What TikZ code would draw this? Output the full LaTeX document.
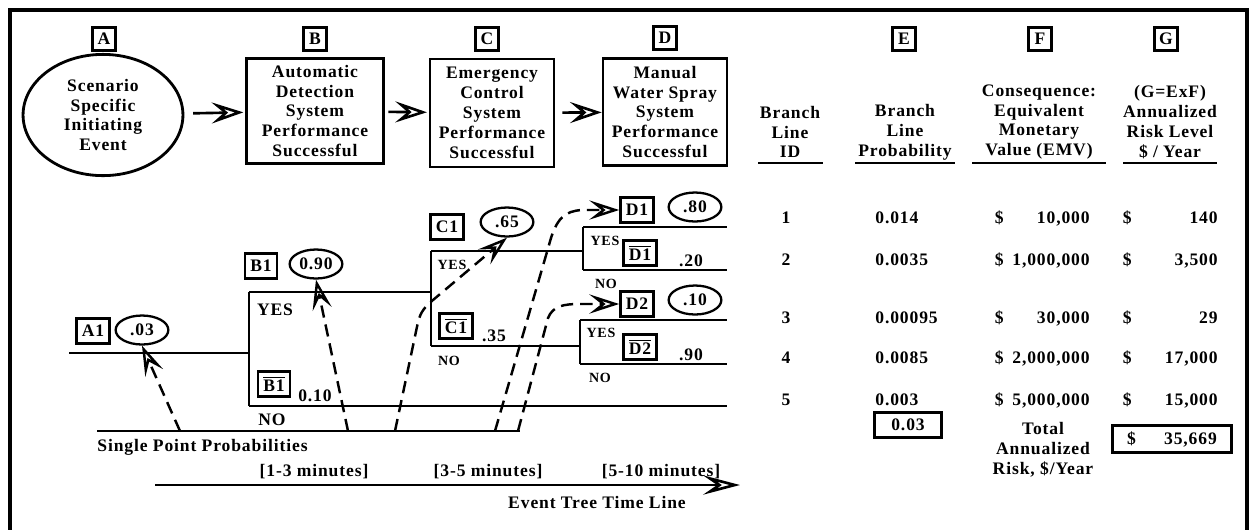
\documentclass[tikz,border=0pt]{standalone}
\usepackage{fontspec}
\setmainfont{Liberation Serif}[LetterSpace=5]
\usetikzlibrary{calc}
\usetikzlibrary{arrows.meta}
\usetikzlibrary{shapes.geometric}

\tikzset{
  txt/.style={font=\fontsize{10}{11.3}\selectfont\bfseries, inner sep=0pt},
  smalltxt/.style={font=\fontsize{8}{9}\selectfont\bfseries, inner sep=0pt},
  letterbox/.style={txt, draw, line width=1.6pt, minimum width=13pt, minimum height=13.5pt},
  tagbox/.style={txt, draw, line width=1.6pt, inner xsep=3pt, inner ysep=2pt, minimum height=14pt},
  stagebox/.style={txt, draw, line width=1.6pt, align=center},
  probell/.style={txt, draw, ellipse, line width=1.3pt, minimum width=30pt, minimum height=16.5pt},
  branch/.style={line width=1.5pt},
  flowarrow/.style={line width=1.5pt, -{Stealth[open, length=18pt, width=12pt, inset=7pt]}},
  dasharrow/.style={line width=1.4pt, dash pattern=on 7pt off 4pt, -{Stealth[open, length=17pt, width=11pt, inset=7pt]}},
}

\begin{document}
\begin{tikzpicture}[x=0.02cm, y=-0.02cm]
\useasboundingbox (0,0) rectangle (1250,529);
\def\tend{727}
\draw[line width=1.8pt] (10,540) -- (10,10) -- (1247,10) -- (1247,540);

\node[letterbox] (ltrA) at (104,39) {A};
\node[letterbox] (ltrB) at (315,39) {B};
\node[letterbox] (ltrC) at (487,39) {C};
\node[letterbox] (ltrD) at (665,38) {D};
\node[letterbox] (ltrE) at (904,39) {E};
\node[letterbox] (ltrF) at (1040,39) {F};
\node[letterbox] (ltrG) at (1166,39) {G};

\node[txt, draw, ellipse, line width=1.6pt, minimum width=91pt, minimum height=69pt, align=center] (scen) at (103,115) {Scenario\\Specific\\Initiating\\Event};
\node[stagebox, minimum width=78pt, minimum height=60pt] (autodet) at (315,111) {Automatic\\Detection\\System\\Performance\\Successful};
\node[stagebox, minimum width=70.5pt, minimum height=61.5pt] (emctrl) at (492,113) {Emergency\\Control\\System\\Performance\\Successful};
\node[stagebox, minimum width=70.5pt, minimum height=61pt] (wspray) at (665,112) {Manual\\Water Spray\\System\\Performance\\Successful};
\draw[flowarrow, shorten <=5pt, shorten >=1pt] (scen) -- (autodet);
\draw[flowarrow, shorten <=2pt, shorten >=1pt] (autodet) -- (emctrl);
\draw[flowarrow, shorten <=4pt] (emctrl) -- (wspray);

\node[txt, align=center] (hdid) at (790,132) {Branch\\Line\\ID};
\node[txt, align=center] (hdprob) at (905,132) {Branch\\Line\\Probability};
\node[txt, align=center] (hdemv) at (1039,122) {Consequence:\\Equivalent\\Monetary\\Value (EMV)};
\node[txt, align=center] (hdrisk) at (1170,122) {(G=ExF)\\Annualized\\Risk Level\\\$ / Year};
\draw[line width=1.4pt] (758,163) -- (823,163) (855,163) -- (955,163) (972,163) -- (1106,163) (1123,163) -- (1217,163);

\coordinate (a0) at (69,353);
\coordinate (bj) at (249,353);
\coordinate (by) at (249,292);
\coordinate (bn) at (249,406);
\coordinate (cj) at (431,292);
\coordinate (cy) at (431,251);
\coordinate (cn) at (431,346);
\coordinate (d1j) at (583,251);
\coordinate (d1y) at (583,227);
\coordinate (d1n) at (583,270);
\coordinate (d2j) at (580,346);
\coordinate (d2y) at (580,320);
\coordinate (d2n) at (580,364);
\draw[branch] (a0) -- (bj);
\draw[branch] (by) -- (bn) (by) -- (cj) (bn) -- (\tend,406);
\draw[branch] (cy) -- (cn) (cy) -- (d1j) (cn) -- (d2j);
\draw[branch] (d1y) -- (d1n) (d1y) -- (\tend,227) (d1n) -- (\tend,270);
\draw[branch] (d2y) -- (d2n) (d2y) -- (\tend,320) (d2n) -- (\tend,364);

\node[tagbox] (tagA1) at (93,331) {A1};
\node[probell] (pA1) at (142,330) {.03};
\node[tagbox] (tagB1) at (261,266) {B1};
\node[probell] (pB1) at (316,264) {0.90};
\node[txt] (yesB) at (275,310) {YES};
\node[tagbox] (tagB1n) at (274,384) {$\overline{\mbox{B1}}$};
\node[txt] (pB1n) at (315,396) {0.10};
\node[txt] (noB) at (272,420) {NO};
\node[tagbox] (tagC1) at (447,227) {C1};
\node[probell] (pC1) at (507,222) {.65};
\node[smalltxt] (yesC) at (452,265) {YES};
\node[tagbox] (tagC1n) at (456,326) {$\overline{\mbox{C1}}$};
\node[txt] (pC1n) at (494,336) {.35};
\node[smalltxt] (noC) at (449,361) {NO};
\node[tagbox] (tagD1) at (637,210) {D1};
\node[probell] (pD1) at (695,207) {.80};
\node[smalltxt] (yesD1) at (605,241) {YES};
\node[tagbox] (tagD1n) at (640,253) {$\overline{\mbox{D1}}$};
\node[txt] (pD1n) at (691,261) {.20};
\node[smalltxt] (noD1) at (606,284) {NO};
\node[tagbox] (tagD2) at (637,304) {D2};
\node[probell] (pD2) at (695,300) {.10};
\node[smalltxt] (yesD2) at (601,333) {YES};
\node[tagbox] (tagD2n) at (640,347) {$\overline{\mbox{D2}}$};
\node[txt] (pD2n) at (691,355) {.90};
\node[smalltxt] (noD2) at (600,378) {NO};

\coordinate (sp0) at (97,431);
\coordinate (spe) at (520,431);
\coordinate (sp1) at (180,431);
\coordinate (sp2) at (348,431);
\coordinate (sp3) at (395,431);
\coordinate (sp4) at (495,431);
\coordinate (sp5) at (518,431);
\draw[branch] (sp0) -- (spe);
\draw[dasharrow] (sp1) -- (pA1.south);
\draw[dasharrow] (sp2) -- (pB1.south);
\draw[dasharrow] (sp3) -- (418,322) .. controls (421,311) and (425,307) .. (433,300) -- (pC1.south);
\draw[dasharrow] (sp4) -- (549,245) .. controls (556,218) and (565,211) .. (582,210) -- (tagD1.west);
\draw[dasharrow] (sp5) -- (548,318) .. controls (553,306) and (563,304) .. (580,304) -- (tagD2.west);
\node[txt, anchor=west] (splbl) at (97,447) {Single Point Probabilities};

\node[txt] (t13) at (314,472) {[1-3 minutes]};
\node[txt] (t35) at (488,472) {[3-5 minutes]};
\node[txt] (t510) at (661,472) {[5-10 minutes]};
\coordinate (tl0) at (155,485);
\coordinate (tl1) at (740,485);
\draw[line width=1.5pt, -{Stealth[open, length=21pt, width=11pt, inset=8pt]}] (tl0) -- (tl1);
\node[txt] (tllbl) at (597,502) {Event Tree Time Line};

\foreach \ry/\rid/\rp/\remv/\rrisk in {218/1/0.014/{10,000}/140, 260/2/0.0035/{1,000,000}/{3,500}, 318/3/0.00095/{30,000}/29, 358/4/0.0085/{2,000,000}/{17,000}, 400/5/0.003/{5,000,000}/{15,000}}{
  \node[txt] (id\rid) at (786,\ry) {\rid};
  \node[txt, anchor=west] (pr\rid) at (875,\ry) {\rp};
  \node[txt, anchor=east] (emv\rid) at (1090,\ry) {\makebox[54pt]{\$\hfill\remv}};
  \node[txt, anchor=east] (risk\rid) at (1218,\ry) {\makebox[54pt]{\$\hfill\rrisk}};
}
\node[txt, draw, line width=1.6pt, minimum width=38pt, minimum height=14pt] (ptot) at (908,425) {0.03};
\node[txt, align=center] (totlbl) at (1043,450) {Total\\Annualized\\Risk, \$/Year};
\node[txt, draw, line width=1.6pt, minimum width=68pt, minimum height=15pt] (rtot) at (1172,439) {\makebox[51pt]{\$\hfill 35,669}};
\end{tikzpicture}
\end{document}
